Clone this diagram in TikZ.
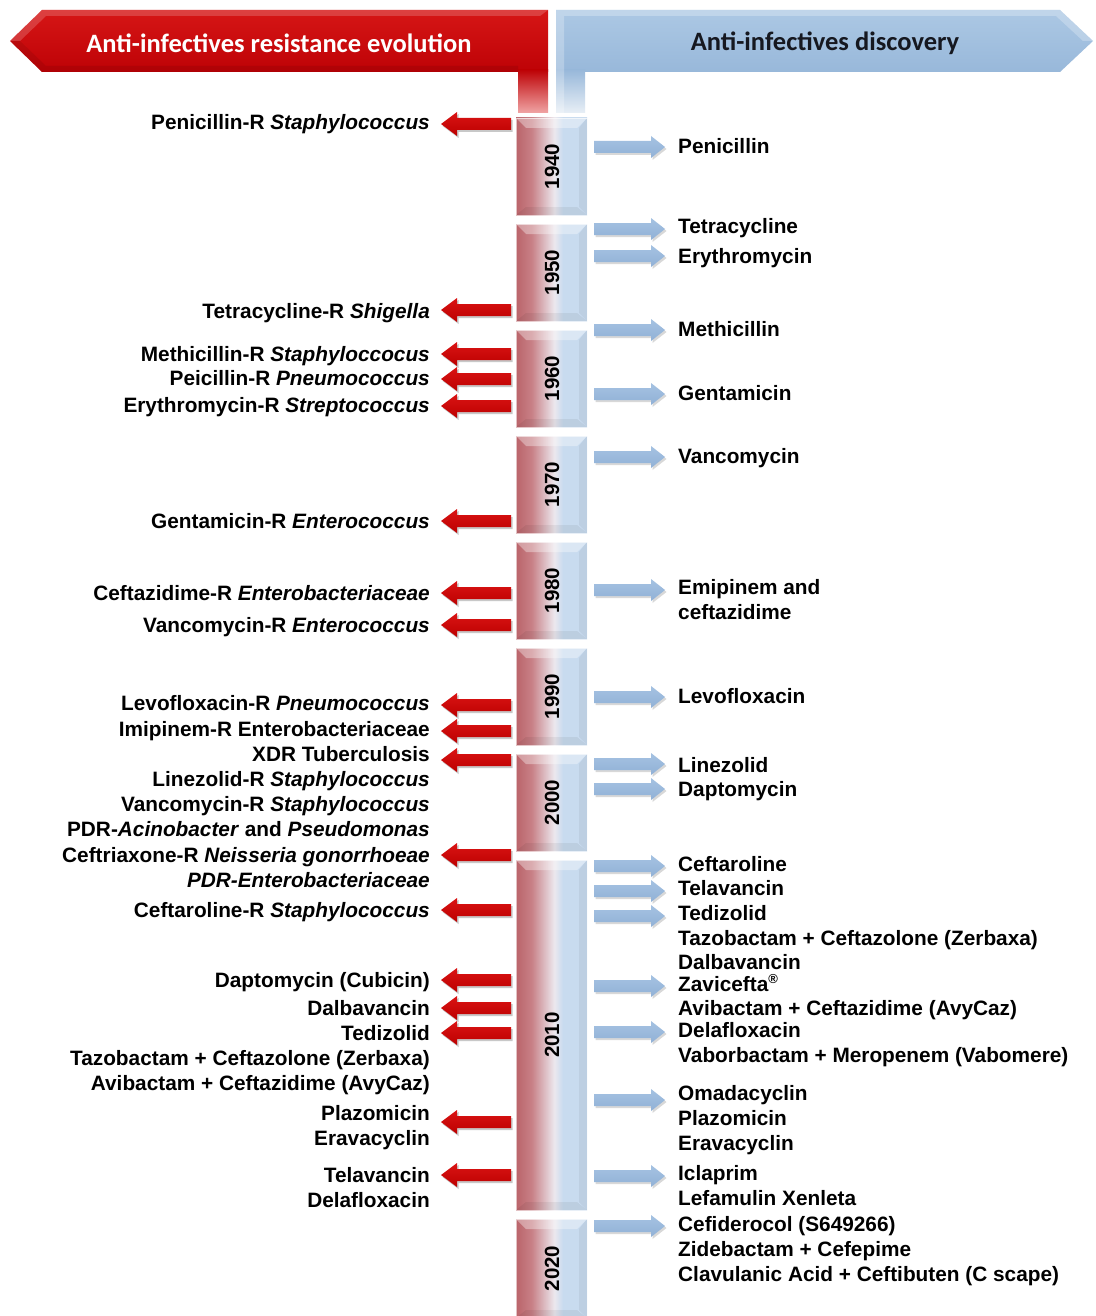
\documentclass[tikz,border=0pt]{standalone}
\usepackage{fontspec}
\setmainfont{Liberation Sans}
\newfontfamily\hdrfont{Carlito}
\usetikzlibrary{shadows}
\definecolor{redA}{RGB}{186,100,106}
\definecolor{redB}{RGB}{200,128,134}
\definecolor{midW}{RGB}{236,232,238}
\definecolor{bluC}{RGB}{200,219,239}
\definecolor{bannerRed}{RGB}{190,2,6}
\definecolor{bannerRedT}{RGB}{214,22,22}
\definecolor{bannerBlue}{RGB}{152,184,218}
\definecolor{bannerBlueT}{RGB}{172,200,228}
\definecolor{arrRed}{RGB}{188,0,0}
\definecolor{arrRedT}{RGB}{218,20,20}
\definecolor{arrBlue}{RGB}{145,177,214}
\definecolor{arrBlueT}{RGB}{165,194,226}
\definecolor{hdrDark}{RGB}{22,24,32}
\pgfdeclarehorizontalshading{yrshade}{100bp}{color(0bp)=(redA); color(25bp)=(redA); color(36bp)=(redB); color(52bp)=(midW); color(58bp)=(bluC); color(75bp)=(bluC); color(100bp)=(bluC)}
\newcommand\redarr[1]{\path[redarrow] (511,#1-6) -- (457,#1-6) -- (457,#1-12) -- (441,#1) -- (457,#1+12) -- (457,#1+6) -- (511,#1+6) -- cycle;}
\newcommand\bluarr[1]{\path[bluearrow] (594,#1-6) -- (651,#1-6) -- (651,#1-11) -- (665,#1) -- (651,#1+11) -- (651,#1+6) -- (594,#1+6) -- cycle;}
\newcommand\yblock[4]{%
  \shade[shading=yrshade] (516,#1) rectangle (587,#2);
  \fill[white,opacity=0.35] (516,#1) -- (587,#1) -- (577,#1+10) -- (526,#1+10) -- cycle;
  \fill[black,opacity=0.06] (516,#2) -- (587,#2) -- (577,#2-8) -- (526,#2-8) -- cycle;
  \fill[black,opacity=0.05] (587,#1) -- (587,#2) -- (579,#2-8) -- (579,#1+10) -- cycle;
  \draw[white,opacity=0.6,line width=0.8pt] (516,#1) rectangle (587,#2);
  \node[yearlab] (#3) at (552,{(#1+#2)/2}) {#4};}
\begin{document}
\begin{tikzpicture}[x=1pt,y=-1pt,
  redarrow/.style={top color=arrRedT,bottom color=arrRed,drop shadow={shadow xshift=1.5pt,shadow yshift=-2pt,opacity=0.3,fill=black!70}},
  bluearrow/.style={top color=arrBlueT,bottom color=arrBlue,drop shadow={shadow xshift=1.5pt,shadow yshift=-2pt,opacity=0.25,fill=black!60}},
  llab/.style={anchor=base east,inner sep=0pt,font=\fontsize{20.8}{24}\selectfont\bfseries},
  rlab/.style={anchor=base west,inner sep=0pt,font=\fontsize{20.8}{24}\selectfont\bfseries},
  yearlab/.style={rotate=90,inner sep=0pt,font=\fontsize{20.5}{24}\selectfont\bfseries},
  hdr/.style={inner sep=0pt,font=\hdrfont\fontsize{26.5}{30}\selectfont\bfseries}]
\useasboundingbox[fill=white] (0,0) rectangle (1095,1316);
% red banner
\shade[top color=bannerRedT,bottom color=bannerRed] (10,41) -- (42,10) -- (548,10) -- (548,72) -- (42,72) -- cycle;
\shade[top color=bannerRed,bottom color={rgb,255:red,240;green,165;blue,165}] (518,70) rectangle (548,113);
\fill[white,opacity=0.18] (10,41) -- (42,10) -- (548,10) -- (540,16) -- (46,16) -- (20,41) -- cycle;
\fill[black,opacity=0.08] (10,41) -- (42,72) -- (518,72) -- (518,66) -- (46,66) -- (20,41) -- cycle;
% blue banner
\shade[top color=bannerBlueT,bottom color=bannerBlue] (556,10) -- (1060,10) -- (1093,41) -- (1060,72) -- (556,72) -- cycle;
\shade[top color=bannerBlue,bottom color={rgb,255:red,232;green,239;blue,246}] (556,70) rectangle (585,113);
\fill[white,opacity=0.25] (556,10) -- (1060,10) -- (1093,41) -- (1083,41) -- (1056,16) -- (564,16) -- (564,113) -- (556,113) -- cycle;
\node[hdr,text=white] (hred) at (279,43) {Anti-infectives resistance evolution};
\node[hdr,text=hdrDark] (hblue) at (825,43) {Anti-infectives discovery};
% timeline blocks
\yblock{118}{215}{y1940}{1940}
\yblock{224}{321}{y1950}{1950}
\yblock{330}{427}{y1960}{1960}
\yblock{436}{533}{y1970}{1970}
\yblock{542}{639}{y1980}{1980}
\yblock{648}{745}{y1990}{1990}
\yblock{754}{851}{y2000}{2000}
\yblock{860}{1210}{y2010}{2010}
\yblock{1219}{1318}{y2020}{2020}
% arrows
\foreach \a in {124,310,354,379,406,521,593,625,705,731,760,855,910,980,1008,1033,1122,1175} {\redarr{\a}}
\foreach \a in {147,229,256,330,394,457,590,697,764,789,866,891,916,986,1032,1100,1176,1226} {\bluarr{\a}}
% left labels
\foreach \y/\t [count=\i] in {
 122/{Penicillin-R \textit{Staphylococcus}},
 311/{Tetracycline-R \textit{Shigella}},
 354/{Methicillin-R \textit{Staphyloccocus}},
 378/{Peicillin-R \textit{Pneumococcus}},
 405/{Erythromycin-R \textit{Streptococcus}},
 521/{Gentamicin-R \textit{Enterococcus}},
 593/{Ceftazidime-R \textit{Enterobacteriaceae}},
 625/{Vancomycin-R \textit{Enterococcus}},
 703/{Levofloxacin-R \textit{Pneumococcus}},
 729/{Imipinem-R Enterobacteriaceae},
 754/{XDR Tuberculosis},
 779/{Linezolid-R \textit{Staphylococcus}},
 804/{Vancomycin-R \textit{Staphylococcus}},
 829/{PDR-\textit{Acinobacter} and \textit{Pseudomonas}},
 855/{Ceftriaxone-R \textit{Neisseria gonorrhoeae}},
 880/{\textit{PDR-Enterobacteriaceae}},
 910/{Ceftaroline-R \textit{Staphylococcus}},
 980/{Daptomycin (Cubicin)},
 1008/{Dalbavancin},
 1033/{Tedizolid},
 1058/{Tazobactam + Ceftazolone (Zerbaxa)},
 1083/{Avibactam + Ceftazidime (AvyCaz)},
 1113/{Plazomicin},
 1138/{Eravacyclin},
 1175/{Telavancin},
 1200/{Delafloxacin}}
 {\node[llab] (L\i) at (430,\y+7.5) {\t};}
% right labels
\foreach \y/\t [count=\i] in {
 146/{Penicillin},
 226/{Tetracycline},
 256/{Erythromycin},
 329/{Methicillin},
 393/{Gentamicin},
 456/{Vancomycin},
 587/{Emipinem and},
 612/{ceftazidime},
 696/{Levofloxacin},
 765/{Linezolid},
 789/{Daptomycin},
 864/{Ceftaroline},
 888/{Telavancin},
 913/{Tedizolid},
 938/{Tazobactam + Ceftazolone (Zerbaxa)},
 962/{Dalbavancin},
 984/{Zavicefta\textsuperscript{\fontsize{13}{13}\selectfont®}},
 1008/{Avibactam + Ceftazidime (AvyCaz)},
 1030/{Delafloxacin},
 1055/{Vaborbactam + Meropenem (Vabomere)},
 1093/{Omadacyclin},
 1118/{Plazomicin},
 1143/{Eravacyclin},
 1173/{Iclaprim},
 1198/{Lefamulin Xenleta},
 1224/{Cefiderocol (S649266)},
 1249/{Zidebactam + Cefepime},
 1274/{Clavulanic Acid + Ceftibuten (C scape)}}
 {\node[rlab] (R\i) at (678,\y+7.5) {\t};}
\end{tikzpicture}
\end{document}
